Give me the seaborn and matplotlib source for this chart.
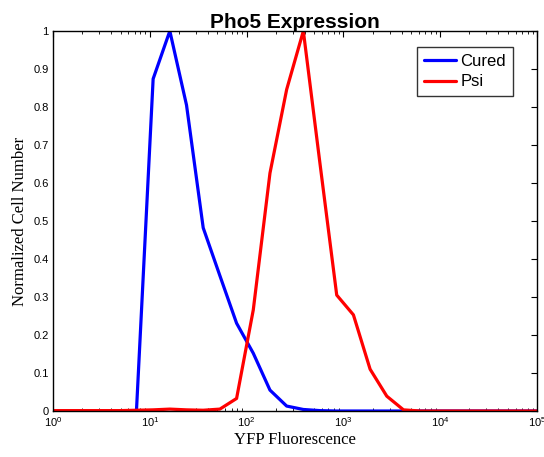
import numpy as np
import pandas as pd
import matplotlib
matplotlib.use("Agg")
import matplotlib.pyplot as plt
import seaborn as sns
from matplotlib.ticker import LogLocator, LogFormatterMathtext, FixedLocator, FuncFormatter

# bin centres on a log scale, 10^0 .. 10^5 (30 bins)
log_bins = [k * 5 / 29 for k in range(30)]
cured = [0, 0, 0, 0, 0, 0, 0.874, 1.0, 0.805, 0.482, 0.356, 0.231, 0.152, 0.055, 0.013,
         0.004, 0.001, 0, 0, 0, 0, 0, 0, 0, 0, 0, 0, 0, 0, 0]
psi = [0.001, 0.001, 0.001, 0.001, 0.001, 0.002, 0.003, 0.005, 0.003, 0.002, 0.005, 0.033,
       0.266, 0.626, 0.846, 1.0, 0.65, 0.305, 0.253, 0.11, 0.039, 0.003, 0, 0, 0, 0, 0, 0, 0, 0]
series_names = ["Cured", "Psi"]
colors = ["#0000ff", "#ff0000"]

x_vals = [10 ** v for v in log_bins]
df = pd.DataFrame({
    "YFP": x_vals * 2,
    "value": cured + psi,
    "series": [series_names[0]] * len(x_vals) + [series_names[1]] * len(x_vals),
})

sns.set_style("white")
plt.rcParams["font.family"] = ["Liberation Sans", "DejaVu Sans"]
plt.rcParams["mathtext.default"] = "regular"
plt.rcParams["text.color"] = "black"
plt.rcParams["axes.labelcolor"] = "black"

fig = plt.figure(figsize=(5.44, 4.57), dpi=100)
ax = fig.add_axes([53 / 544, 1 - 411 / 457, 484 / 544, 380 / 457])

sns.lineplot(data=df, x="YFP", y="value", hue="series", palette=colors,
             linewidth=2.3, ax=ax, legend=True)

ax.set_xscale("log")
ax.set_xlim(1, 1e5)
ax.set_ylim(0, 1)

ax.xaxis.set_major_locator(LogLocator(base=10, numticks=10))
ax.xaxis.set_major_formatter(LogFormatterMathtext())
ax.xaxis.set_minor_locator(LogLocator(base=10, subs=np.arange(2, 10), numticks=20))
ax.yaxis.set_major_locator(FixedLocator(np.round(np.arange(0, 1.01, 0.1), 1)))
ax.yaxis.set_major_formatter(FuncFormatter(lambda v, p: f"{v:g}"))

ax.tick_params(axis="both", which="major", direction="in", length=4, width=0.8,
               top=True, right=True, labelsize=8, colors="black", pad=3)
ax.tick_params(axis="x", which="minor", direction="in", length=2, width=0.6,
               top=True, bottom=True, colors="black")
for sp in ax.spines.values():
    sp.set_visible(True)
    sp.set_color("black")
    sp.set_linewidth(1.0)

ax.set_title("Pho5 Expression", fontsize=15, fontweight="bold", pad=2, color="black")
ax.set_xlabel("YFP Fluorescence", fontsize=12, family=["Liberation Serif"], labelpad=2,
              color="black")
ax.set_ylabel("Normalized Cell Number", fontsize=12, family=["Liberation Serif"], labelpad=4,
              color="black")

leg = ax.legend(loc="upper right", bbox_to_anchor=(0.95, 0.958), borderaxespad=0,
                fontsize=12, frameon=True, fancybox=False, handlelength=1.9,
                handletextpad=0.3, borderpad=0.4, labelspacing=0.35, title=None)
leg.get_frame().set_edgecolor("black")
leg.get_frame().set_linewidth(1.0)
for t in leg.get_texts():
    t.set_color("black")

fig.savefig("out.png", dpi=100, facecolor="white")
